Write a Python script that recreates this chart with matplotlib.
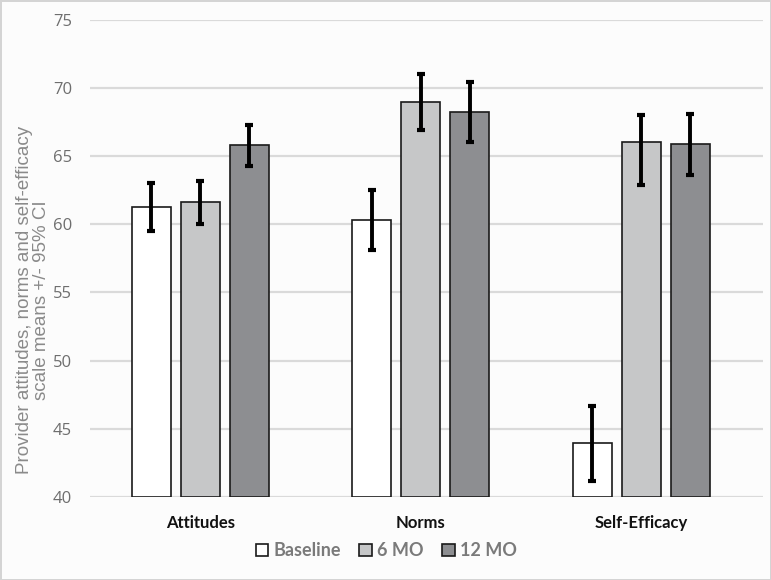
import matplotlib.pyplot as plt
import numpy as np

categories = ['Attitudes', 'Norms', 'Self-Efficacy']
series = ['Baseline', '6 MO', '12 MO']
means = {
    'Baseline': [61.3, 60.3, 44.0],
    '6 MO': [61.6, 69.0, 66.0],
    '12 MO': [65.8, 68.2, 65.9],
}
ci_low = {
    'Baseline': [59.5, 58.1, 41.2],
    '6 MO': [60.0, 66.9, 62.9],
    '12 MO': [64.3, 66.0, 63.6],
}
ci_high = {
    'Baseline': [63.0, 62.5, 46.7],
    '6 MO': [63.2, 71.0, 68.0],
    '12 MO': [67.3, 70.4, 68.1],
}
colors = {'Baseline': '#ffffff', '6 MO': '#c6c7c8', '12 MO': '#8d8e91'}

fig = plt.figure(figsize=(7.71, 5.80), dpi=100)
fig.patch.set_facecolor('#fcfcfc')
fig.patch.set_edgecolor('#d4d4d4')
fig.patch.set_linewidth(2)
ax = fig.add_axes([0.117, 0.143, 0.873, 0.823])
ax.set_facecolor('#fcfcfc')

x = np.arange(len(categories))
width = 0.177
step = 0.222
for i, s in enumerate(series):
    pos = x + (i - 1) * step
    m = np.array(means[s])
    lo = m - np.array(ci_low[s])
    hi = np.array(ci_high[s]) - m
    ax.bar(pos, m - 40, width, bottom=40, color=colors[s], edgecolor='#1a1a1a',
           linewidth=1.2, label=s, zorder=3)
    ax.errorbar(pos, m, yerr=[lo, hi], fmt='none', ecolor='black', elinewidth=2.8,
                capsize=3, capthick=3, zorder=4)

ax.set_ylim(40, 75)
ax.set_xlim(-0.5, 2.553)
ax.set_yticks(range(40, 76, 5))
ax.yaxis.grid(True, color='#dadada', linewidth=1.6, zorder=0)
ax.set_axisbelow(True)
for sp in ax.spines.values():
    sp.set_visible(False)
ax.tick_params(axis='y', length=0, pad=13, labelsize=12, labelcolor='#6e6e6e')
ax.tick_params(axis='x', length=0, pad=13)
for lab in ax.get_yticklabels():
    lab.set_fontfamily('Open Sans')
ax.set_xticks(x)
ax.set_xticklabels(categories, fontsize=12, fontweight='bold', fontfamily='Lato', color='#111111')

fig.text(0.043, 0.483, 'Provider attitudes, norms and self-efficacy\nscale means +/- 95% CI',
         rotation=90, ha='center', va='center', fontsize=13.5, color='#8a8a8a',
         fontfamily='Liberation Sans', linespacing=0.95)

leg = ax.legend(loc='center', bbox_to_anchor=(0.44, -0.113), ncol=3, frameon=False,
                handlelength=0.7, handleheight=0.7, handletextpad=0.3, columnspacing=1.0,
                prop={'family': 'Lato', 'weight': 'bold', 'size': 13})
for t in leg.get_texts():
    t.set_color('#7a7a7a')

plt.savefig('out.png', dpi=100, facecolor=fig.get_facecolor(), edgecolor=fig.get_edgecolor())
